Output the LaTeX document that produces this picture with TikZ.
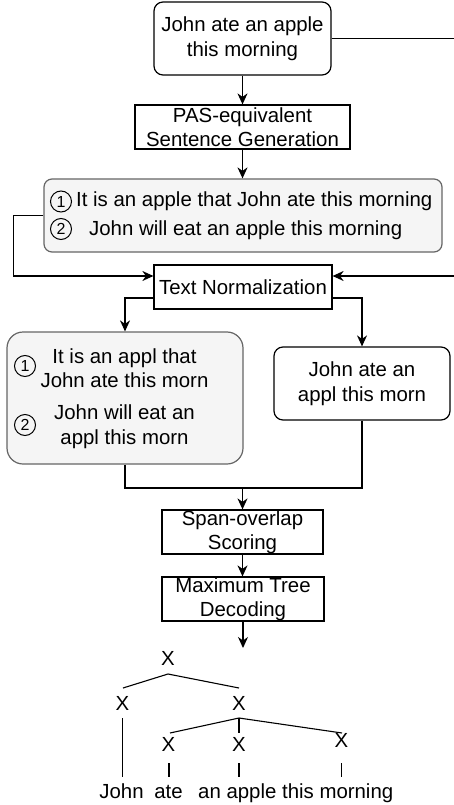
\documentclass[tikz,border=0pt]{standalone}
\usepackage{fontspec}
\setmainfont{Liberation Sans}
\usetikzlibrary{arrows.meta}
\definecolor{grayfill}{HTML}{F5F5F5}
\definecolor{graystroke}{HTML}{666666}
\begin{document}
\begin{tikzpicture}[x=1pt,y=-1pt,
  every node/.style={font=\fontsize{20.4}{24.5}\selectfont, inner sep=0pt, align=center},
  sqbox/.style={draw=black, line width=1.2pt},
  rbox/.style={draw=black, line width=1.2pt, rounded corners=9pt},
  gbox/.style={draw=graystroke, fill=grayfill, line width=1.2pt},
  circ/.style={circle, draw=black, line width=1pt, minimum size=21pt, font=\fontsize{16}{16}\selectfont},
  conn/.style={draw=black, line width=1.2pt},
  arr/.style={conn, -{Stealth[length=11pt,width=10pt,inset=3.5pt]}},
  tline/.style={draw=black, line width=1.1pt}]
\useasboundingbox (0,0) rectangle (453,805);

% boxes
\node[rbox, minimum width=177pt, minimum height=73pt] (top) at (242.5,38.5) {John ate an apple\\this morning};
\node[sqbox, minimum width=215pt, minimum height=44pt] (pas) at (242.5,127) {PAS-equivalent\\Sentence Generation};
\node[gbox, rounded corners=8pt, minimum width=398pt, minimum height=73pt] (gray) at (243,215.5) {};
\node[circ] (g1c) at (61,201.5) {1};
\node[anchor=base west] (g1t) at (76,206.7) {It is an apple that John ate this morning};
\node[circ] (g2c) at (61,229) {2};
\node[anchor=base west] (g2t) at (89,235) {John will eat an apple this morning};

\node[sqbox, minimum width=178pt, minimum height=44pt] (norm) at (243,287) {Text Normalization};

\node[gbox, rounded corners=16pt, minimum width=236pt, minimum height=132pt] (left) at (125,398) {};
\node[circ] (l1c) at (25,366) {1};
\node (l1t) at (124.5,368) {It is an appl that\\John ate this morn};
\node[circ] (l2c) at (25,425) {2};
\node (l2t) at (124.5,426.5) {John will eat an\\appl this morn};

\node[rbox, minimum width=176pt, minimum height=73pt] (right) at (362,383.5) {John ate an\\appl this morn};

\node[sqbox, minimum width=161pt, minimum height=44pt] (span) at (242.5,532) {Span-overlap\\Scoring};
\node[sqbox, minimum width=162pt, minimum height=44pt] (dec) at (243,599) {Maximum Tree\\Decoding};

% connectors
\draw[arr] (top.south) -- (pas.north);
\draw[arr] (pas.south) -- (pas.south |- gray.north);
\draw[arr] (top.east) -- ++(125,0) |- ([yshift=11pt]norm.east);
\draw[arr] (gray.west) -- ++(-30,0) |- ([yshift=11pt]norm.west);
\draw[arr] ([yshift=-11pt]norm.west) -| (left.north);
\draw[arr] ([yshift=-11pt]norm.east) -| (right.north);
\coordinate (merge) at (242.5,488);
\draw[conn] (left.south) |- (merge);
\draw[conn] (right.south) |- (merge);
\draw[arr] (merge) -- (span.north);
\draw[arr] (span.south) -- (span.south |- dec.north);
\coordinate (treetop) at (243,648);
\draw[arr] (dec.south) -- (treetop);

% tree
\node (x0) at (168,658.5) {X};
\node (x1) at (122.5,703) {X};
\node (x2) at (239,703) {X};
\node (x3) at (168.5,744.5) {X};
\node (x4) at (239,744.5) {X};
\node (x5) at (341.5,740) {X};
\node[anchor=base] (wjohn) at (121.5,798) {John};
\node[anchor=base] (wate) at (168.5,798) {ate};
\node[anchor=base west] (wrest) at (198,798) {an apple this morning};

\coordinate (a0) at (168,674);
\coordinate (a0l) at (123,688);
\coordinate (a0r) at (239,688);
\draw[tline] (a0l) -- (a0) -- (a0r);
\coordinate (a2) at (239,718);
\coordinate (a2l) at (170,733);
\coordinate (a2m) at (239,733);
\coordinate (a2r) at (342,733);
\draw[tline] (a2l) -- (a2) -- (a2r);
\draw[tline] (a2) -- (a2m);
\draw[tline] (x1.south |- 0,718) -- (x1.south |- 0,777);
\draw[tline] (169,763) -- (169,777);
\draw[tline] (239,763) -- (239,777);
\draw[tline] (341.5,763) -- (341.5,777);
\end{tikzpicture}
\end{document}
